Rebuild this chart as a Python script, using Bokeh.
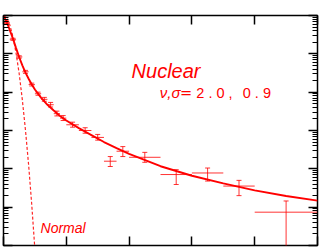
from bokeh.plotting import figure
from bokeh.models import (Range1d, FixedTicker, LinearAxis, LogAxis, Label,
                          CustomJSTickFormatter)
from bokeh.embed import file_html
from bokeh.resources import INLINE

# ---- fitted "Nuclear" curve ----
curve_x = [0, 0.025, 0.05, 0.075, 0.1, 0.15, 0.2, 0.25, 0.3, 0.35, 0.4, 0.45, 0.5,
           0.6, 0.7, 0.8, 0.9, 1.0, 1.2, 1.4, 1.6, 1.8, 2.0, 2.5, 3.0, 3.5, 4.0, 4.5, 5.0]
curve_y = [1.0, 0.83, 0.676, 0.54, 0.417, 0.251, 0.141, 0.0813, 0.0501, 0.0324, 0.0224,
           0.0158, 0.01175, 0.00708, 0.00468, 0.00331, 0.0024, 0.00182, 0.00115,
           7.6e-4, 5.0e-4, 3.47e-4, 2.45e-4, 1.17e-4, 6.6e-5, 4.17e-5, 2.75e-5,
           1.95e-5, 1.48e-5]

# ---- "Normal" curve (dashed) ----
normal_x = [0, 0.05, 0.1, 0.15, 0.2, 0.25, 0.3, 0.35, 0.4, 0.45, 0.5]
normal_y = [1.0, 0.869, 0.570, 0.282, 0.105, 0.0302, 0.0063, 1.02e-3, 1.26e-4,
            1.15e-5, 7.9e-7]

# ---- measured points ----
pt_x = [0.05, 0.15, 0.25, 0.35, 0.45, 0.55, 0.65, 0.75, 0.85, 0.95,
        1.1, 1.3, 1.5, 1.7, 1.9, 2.25, 2.75, 3.25, 3.75, 4.5]
pt_xlo = [0.0, 0.1, 0.2, 0.3, 0.4, 0.5, 0.6, 0.7, 0.8, 0.9,
          1.0, 1.2, 1.4, 1.6, 1.8, 2.0, 2.5, 3.0, 3.5, 4.0]
pt_xhi = [0.1, 0.2, 0.3, 0.4, 0.5, 0.6, 0.7, 0.8, 0.9, 1.0,
          1.2, 1.4, 1.6, 1.8, 2.0, 2.5, 3.0, 3.5, 4.0, 5.0]
pt_y = [0.66, 0.24, 0.083, 0.034, 0.0158, 0.0091, 0.0065, 0.0047, 0.00275, 0.0021,
        0.00141, 0.0010, 0.00066, 1.58e-4, 2.88e-4, 2.0e-4, 7.1e-5, 7.8e-5, 3.55e-5, 7.4e-6]
pt_ylo = [0.62, 0.225, 0.077, 0.031, 0.0145, 0.0083, 0.0058, 0.0041, 0.0024, 0.00182,
          0.00122, 0.00085, 0.00056, 1.15e-4, 2.09e-4, 1.48e-4, 3.9e-5, 4.8e-5, 2.0e-5, 1e-7]
pt_yhi = [0.70, 0.255, 0.089, 0.037, 0.0172, 0.0100, 0.0073, 0.0054, 0.0032, 0.00245,
          0.00165, 0.00118, 0.00079, 2.09e-4, 3.8e-4, 2.69e-4, 9.5e-5, 1.05e-4, 5.0e-5, 1.45e-5]

x_ticks = [0, 1, 2, 3, 4, 5]
y_ticks = [1e-6, 1e-5, 1e-4, 1e-3, 1e-2, 1e-1, 1]
y_minor = [m * 10.0 ** k for k in range(-6, 0) for m in range(2, 10)]

RED = "#ff0000"

p = figure(width=335, height=255, x_range=Range1d(0, 5), y_range=Range1d(1e-6, 1),
           y_axis_type="log", x_axis_location=None, y_axis_location=None,
           output_backend="svg", toolbar_location=None,
           min_border_left=11, min_border_right=10, min_border_top=23, min_border_bottom=2)
p.styles = {"margin": "-8px"}
p.xgrid.visible = False
p.ygrid.visible = False
p.outline_line_color = "black"
p.outline_line_width = 1.5
p.background_fill_color = "white"
p.border_fill_color = "white"

empty = CustomJSTickFormatter(code="return ''")


def style(ax, minor=True):
    ax.formatter = empty
    ax.major_label_standoff = 0
    ax.major_label_text_font_size = "1px"
    ax.major_tick_out = 0
    ax.major_tick_in = 9
    ax.minor_tick_out = 0
    ax.minor_tick_in = 5 if minor else 0
    ax.axis_line_color = None
    ax.major_tick_line_color = "black"
    ax.major_tick_line_width = 1.5
    ax.minor_tick_line_color = "black" if minor else None
    ax.minor_tick_line_width = 1


for loc in ("below", "above"):
    ax = LinearAxis(ticker=FixedTicker(ticks=x_ticks, minor_ticks=[]))
    style(ax, minor=False)
    p.add_layout(ax, loc)

for loc in ("left", "right"):
    ax = LogAxis(ticker=FixedTicker(ticks=y_ticks, minor_ticks=y_minor))
    style(ax)
    p.add_layout(ax, loc)

# curves
p.line(normal_x, normal_y, line_color=RED, line_width=1.2, line_dash="3 2", line_alpha=0.85)
p.line(curve_x, curve_y, line_color=RED, line_width=1.9)

# error bars
p.segment(x0=pt_xlo, y0=pt_y, x1=pt_xhi, y1=pt_y, line_color=RED, line_width=1, line_alpha=0.8)
p.segment(x0=pt_x, y0=pt_ylo, x1=pt_x, y1=pt_yhi, line_color=RED, line_width=1, line_alpha=0.8)
p.scatter(pt_x, pt_ylo, marker="dash", size=5, line_color=RED, line_width=1, line_alpha=0.8)
p.scatter(pt_x, pt_yhi, marker="dash", size=5, line_color=RED, line_width=1, line_alpha=0.8)


def lab(x, y, text, size, italic=False, font="Liberation Sans"):
    p.add_layout(Label(x=x, y=y, text=text, text_font=font,
                       text_font_style="italic" if italic else "normal",
                       text_font_size=size, text_color=RED, text_baseline="alphabetic"))


lab(2.04, 0.0367, "Nuclear", "20px", italic=True)
lab(2.49, 0.0098, "ν,σ", "15px", italic=True)
lab(2.81, 0.0098, "=", "14.5px", font="DejaVu Sans")
lab(3.07, 0.0098, "2 . 0 ,", "14.5px")
lab(3.81, 0.0098, "0 . 9", "14.5px")
lab(0.59, 2.9e-6, "Normal", "14px", italic=True)

open("out.html", "w").write(file_html(p, INLINE))
